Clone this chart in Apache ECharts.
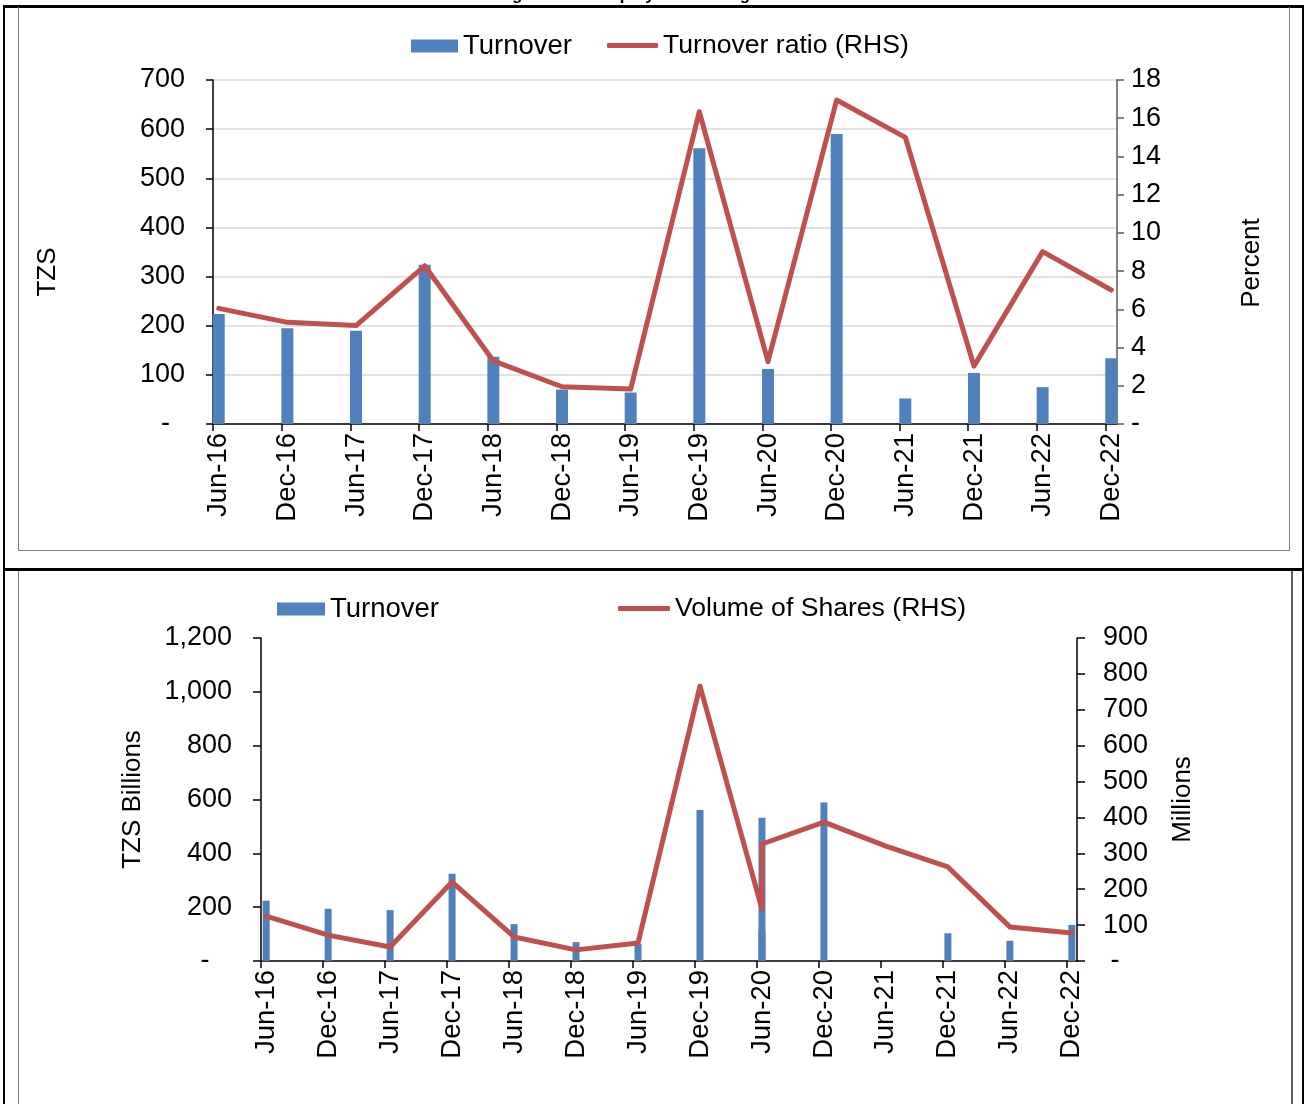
<!DOCTYPE html>
<html>
<head>
<meta charset="utf-8">
<script src="https://cdn.jsdelivr.net/npm/echarts@6/dist/echarts.min.js"></script>
<style>
html,body{margin:0;padding:0;background:#fff;}
#wrap{position:relative;width:1304px;height:1104px;overflow:hidden;background:#fff;}
.b{position:absolute;box-sizing:border-box;}
#chart{position:absolute;left:0;top:0;width:1304px;height:1104px;}
</style>
</head>
<body>
<div id="wrap">
  <div class="b" style="left:3px;top:5px;width:1301px;height:1120px;border:2px solid #000;border-top-width:3px;"></div>
  <div class="b" style="left:3px;top:568px;width:1301px;height:3px;background:#000;"></div>
  <div class="b" style="left:18px;top:7px;width:1272px;height:544px;border:1.5px solid #808080;border-top:none;"></div>
  <div class="b" style="left:18px;top:571px;width:1275px;height:600px;border:1.5px solid #808080;border-top:none;border-right:2px solid #606060;"></div>
  <div id="chart"></div>
</div>
<script>
// ---- data ----
var periods = ['Jun-16','Dec-16','Jun-17','Dec-17','Jun-18','Dec-18','Jun-19','Dec-19','Jun-20','Dec-20','Jun-21','Dec-21','Jun-22','Dec-22'];
// top chart
var turnoverTZS = [224,195,190,324,137,70,64,561,112,590,52,104,75,134];
var turnoverRatio = [6.05,5.32,5.15,8.28,3.30,1.95,1.83,16.34,3.26,16.95,15.0,3.03,9.02,7.01];
// bottom chart (Jun-20 reported twice, no turnover bar for Jun-21)
var bottomPeriods = ['Jun-16','Dec-16','Jun-17','Dec-17','Jun-18','Dec-18','Jun-19','Dec-19','Jun-20','Jun-20','Dec-20','Jun-21','Dec-21','Jun-22','Dec-22'];
var turnoverBillions = [224,194,189,324,137,70,64,561,532,112,589,null,103,75,134];
var volumeShares = [125,72,39,220,67,31,50,766,145,326,387,320,262,95,78];

// months since Jun-16, data sits mid-month
function monthPos(p){ return periods.indexOf(p) * 6 + 0.5; }
var tickVals = periods.map(function(p, i){ return i * 6; });
var labelVals = periods.map(function(p){ return monthPos(p); });

var topBars = periods.map(function(p, i){ return [monthPos(p), turnoverTZS[i]]; });
var topLine = periods.map(function(p, i){ return [monthPos(p), turnoverRatio[i]]; });
var botBars = bottomPeriods.map(function(p, i){ return [monthPos(p), turnoverBillions[i]]; });
var botLine = bottomPeriods.map(function(p, i){ return [monthPos(p), volumeShares[i]]; });

var FONT = 'Arial, "Liberation Sans", sans-serif';
var BLUE = '#4F81BD', RED = '#C0504D';

function xAxisCfg(gi){
  return {
    type:'value', gridIndex:gi, min:0, max:79,
    axisLine:{show:true, lineStyle:{color:'#000', width:1.5}},
    axisTick:{show:true, customValues:tickVals, length:7, lineStyle:{color:'#000', width:1.5}},
    axisLabel:{customValues:labelVals, rotate:90, margin:9, fontSize:27.5, color:'#000', fontFamily:FONT,
      formatter:function(v){ var k = Math.round((v - 0.5)/6); return periods[k] || ''; }},
    splitLine:{show:false}
  };
}
function yAxisCfg(gi, min, max, interval, pos, fmt, opts){
  return {
    type:'value', gridIndex:gi, min:min, max:max, interval:interval, position:pos,
    axisLine:{show:true, lineStyle:{color:opts.lineColor || '#000', width:1.5}},
    axisTick:{show:true, length:opts.tickLen || 7, lineStyle:{color:opts.lineColor || '#000', width:1.5}},
    axisLabel:{margin:opts.margin, fontSize:27, color:'#000', fontFamily:FONT, formatter:fmt},
    splitLine:{show:!!opts.grid, lineStyle:{color:'#D9D9D9', width:1.5}},
    name:opts.name, nameLocation:'middle', nameRotate:90, nameGap:opts.nameGap,
    nameTextStyle:{fontSize:26, color:'#000', fontFamily:FONT, padding:opts.namePad || 0}
  };
}
function dashL(v){ return v === 0 ? '-  ' : v.toLocaleString('en-US'); }
function dashL2(v){ return v === 0 ? '-   ' : v.toLocaleString('en-US'); }
function dashR(v){ return v === 0 ? '-' : String(v); }
function dashR2(v){ return v === 0 ? ' -' : String(v); }

var legendText = {fontSize:27.5, color:'#000', fontFamily:FONT};
var legendText2 = {fontSize:26.6, color:'#000', fontFamily:FONT};
var chart = echarts.init(document.getElementById('chart'), null, {renderer:'canvas'});
chart.setOption({
  backgroundColor:'transparent',
  animation:false,
  graphic:[{
    type:'text', silent:true,
    style:{text:'Trading of Listed Equity in Exchange', x:461, y:-5, textAlign:'left', textVerticalAlign:'middle',
      font:'bold 17px ' + FONT, fill:'#000'}
  }],
  legend:[
    {data:['Turnover'], left:411, top:32, padding:0, icon:'rect', itemWidth:47, itemHeight:13, textStyle:legendText, selectedMode:false},
    {data:['Turnover ratio (RHS)'], left:607, top:32, padding:0, icon:'roundRect', itemWidth:51, itemHeight:5, textStyle:legendText2, selectedMode:false},
    {data:['Turnover'], left:277, top:595, padding:0, icon:'rect', itemWidth:48, itemHeight:13, textStyle:legendText, selectedMode:false},
    {data:['Volume of Shares (RHS)'], left:618, top:595, padding:0, icon:'roundRect', itemWidth:52, itemHeight:5, textStyle:legendText2, selectedMode:false}
  ],
  grid:[
    {left:213, top:80, width:904, height:344},
    {left:261, top:638, width:816, height:323}
  ],
  xAxis:[xAxisCfg(0), xAxisCfg(1)],
  yAxis:[
    yAxisCfg(0, 0, 700, 100, 'left', dashL, {margin:28, grid:true, name:'TZS', nameGap:152, tickLen:7, namePad:[0,40,0,0]}),
    yAxisCfg(0, 0, 18, 2, 'right', dashR, {margin:14, lineColor:'#595959', name:'Percent', nameGap:122, tickLen:7, namePad:[0,22,0,0]}),
    yAxisCfg(1, 0, 1200, 200, 'left', dashL2, {margin:29, name:'TZS Billions', nameGap:115, tickLen:8}),
    yAxisCfg(1, 0, 900, 100, 'right', dashR2, {margin:26, name:'Millions', nameGap:93, tickLen:8})
  ],
  series:[
    {name:'Turnover', type:'bar', xAxisIndex:0, yAxisIndex:0, barWidth:12, data:topBars,
      itemStyle:{color:BLUE}, z:2},
    {name:'Turnover ratio (RHS)', type:'line', xAxisIndex:0, yAxisIndex:1, data:topLine, showSymbol:false,
      lineStyle:{color:RED, width:5, cap:'round', join:'round'}, itemStyle:{color:RED}, z:3},
    {name:'Turnover', type:'bar', xAxisIndex:1, yAxisIndex:2, barWidth:7, data:botBars,
      itemStyle:{color:BLUE}, z:2},
    {name:'Volume of Shares (RHS)', type:'line', xAxisIndex:1, yAxisIndex:3, data:botLine, showSymbol:false,
      connectNulls:true, lineStyle:{color:RED, width:5, cap:'round', join:'round'}, itemStyle:{color:RED}, z:3}
  ]
});
</script>
</body>
</html>
